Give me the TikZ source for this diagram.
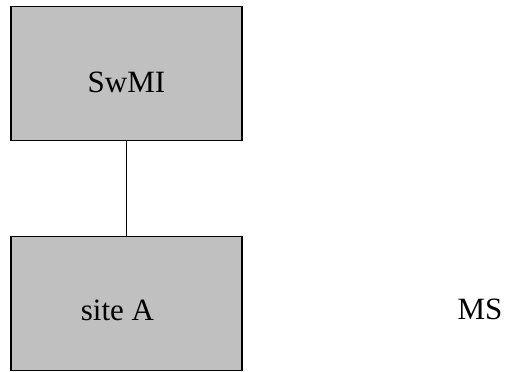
\documentclass[tikz,border=0pt]{standalone}
\usepackage{fontspec}
\setmainfont{Liberation Serif}
\begin{document}
\begin{tikzpicture}[x=1pt,y=-1pt,
  blk/.style={draw=black,fill={rgb,255:red,192;green,192;blue,192},line width=1.2pt,minimum width=231pt,minimum height=134pt,inner sep=0pt},
  txt/.style={font=\fontsize{31}{36}\selectfont,inner sep=0pt}]
\useasboundingbox (0,0) rectangle (506,372);
\node[blk,label={[txt,yshift=-8.5pt]center:SwMI}] (swmi) at (126.5,73.5) {};
\node[blk,label={[txt,xshift=-9pt,yshift=-7pt]center:site A}] (siteA) at (126.5,303.5) {};
\draw[line width=0.8pt] (swmi.south) -- (siteA.north);
\node[txt] (ms) at (480,309) {MS};
\end{tikzpicture}
\end{document}
